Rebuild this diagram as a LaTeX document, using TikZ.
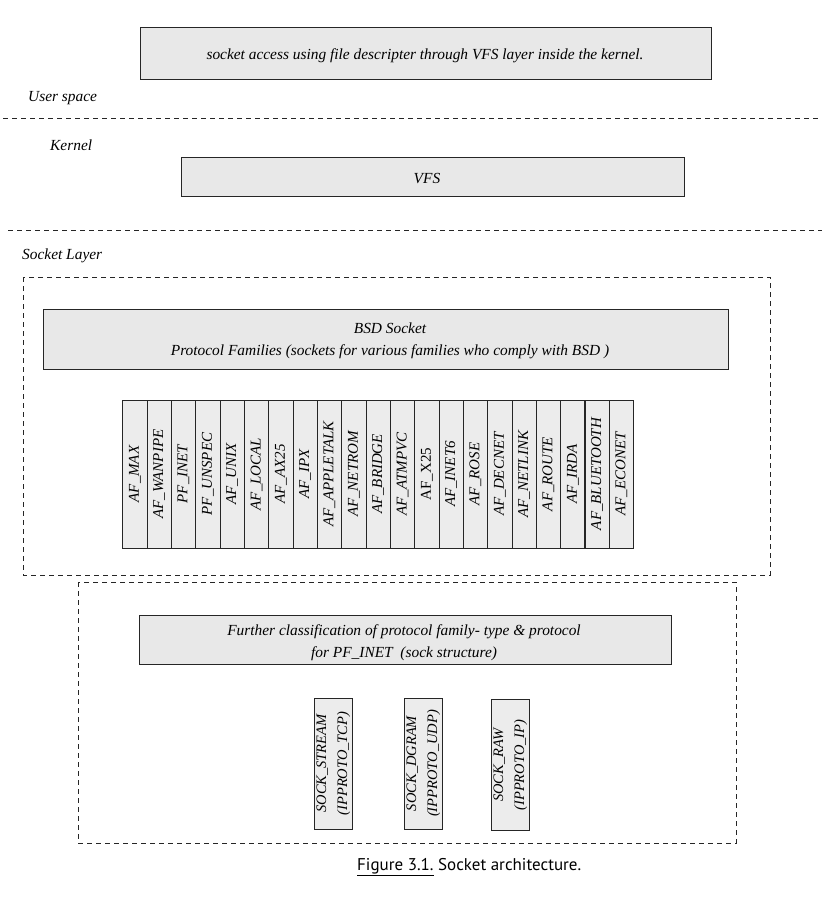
\documentclass[tikz,border=0pt]{standalone}
\usepackage{fontspec}
\setmainfont{Liberation Serif}
\newfontfamily\capfont{PT Sans}
\begin{document}
\begin{tikzpicture}[x=1pt,y=-1pt,
  box/.style={draw=black!85, fill=gray!18, line width=0.9pt, inner sep=0pt},
  colbox/.style={box, fill=gray!15, rotate=90, minimum width=148pt, minimum height=24.33pt},
  sockbox/.style={box, fill=gray!15, rotate=90, minimum width=131pt, minimum height=38pt, align=center, font=\fontsize{14.5}{21}\selectfont\itshape},
  dline/.style={draw=black!85, dash pattern=on 5pt off 4pt, line width=0.7pt},
  txt/.style={font=\fontsize{15.4}{22}\selectfont\itshape, inner sep=0pt},
  coltxt/.style={font=\fontsize{15}{16}\selectfont\itshape}]
\useasboundingbox (0,0) rectangle (822,904);
% top box
\node[box, minimum width=571pt, minimum height=52pt] (top) at (425.5,53) {};
\node[txt] (toptxt) at (425,56) {socket access using file descripter through VFS layer inside the kernel.};
\node[txt, anchor=west] (user) at (28,98) {User space};
\draw[dline] (3,118) -- (818,118);
\node[txt, anchor=west] (kernel) at (50,145) {Kernel};
\node[box, minimum width=503pt, minimum height=39pt] (vfs) at (432.5,176.5) {};
\node[txt] (vfstxt) at (427,179) {VFS};
\draw[dline] (8,230) -- (822,230);
\node[txt, anchor=west] (sockl) at (22,256) {Socket Layer};
% socket layer region
\draw[dline] (23,277) rectangle (770,575);
\node[box, minimum width=685pt, minimum height=60pt] (bsd) at (385.5,339) {};
\node[txt, align=center] (bsdtxt) at (390,341) {BSD Socket\\Protocol Families (sockets for various families who comply with BSD )};
% address families
\foreach \t [count=\i from 0] in {AF\_MAX,AF\_WANPIPE,PF\_INET,PF\_UNSPEC,AF\_UNIX,AF\_LOCAL,AF\_AX25,AF\_IPX,AF\_APPLETALK,AF\_NETROM,AF\_BRIDGE,AF\_ATMPVC,{\upshape AF\_X25},AF\_INET6,AF\_ROSE,AF\_DECNET,AF\_NETLINK,AF\_ROUTE,AF\_IRDA,AF\_BLUETOOTH,AF\_ECONET}
  \node[colbox, coltxt] (c\i) at ({122.7+24.33*(\i+0.5)},474) {\t};
\draw[draw=black!85, line width=1.7pt] (585,400) -- (585,548);
% inet region
\draw[dline] (78,582) rectangle (736,843);
\node[box, minimum width=532pt, minimum height=49pt] (fur) at (405,639.5) {};
\node[txt, align=center] (furtxt) at (404,643) {Further classification of protocol family- type \& protocol\\for PF\_INET\ \ (sock structure)};
\node[sockbox] (s1) at (333.3,763.5) {SOCK\_STREAM\\(IPPROTO\_TCP)};
\node[sockbox] (s2) at (423.3,763.5) {SOCK\_DGRAM\\(IPPROTO\_UDP)};
\node[sockbox] (s3) at (510.3,765) {SOCK\_RAW\\(IPPROTO\_IP)};
% caption
\node[anchor=west, inner sep=0pt, font=\capfont\fontsize{17}{20}\selectfont] (cap) at (357,867) {\underline{Figure 3.1.}\ Socket architecture.};
\end{tikzpicture}
\end{document}
